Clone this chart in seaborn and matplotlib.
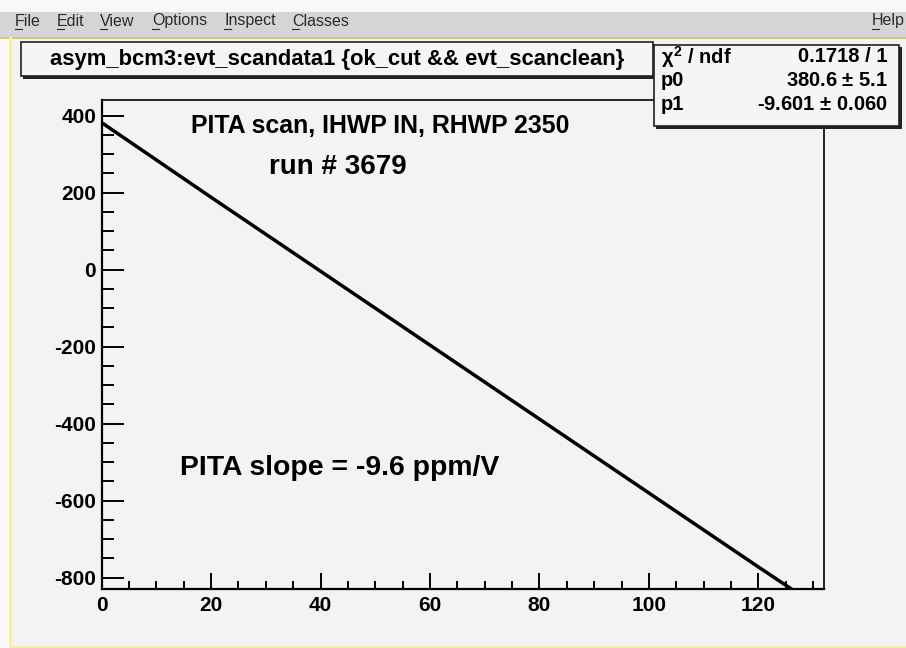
import matplotlib
matplotlib.use("Agg")
import matplotlib.pyplot as plt
from matplotlib.patches import Rectangle
from matplotlib.ticker import MultipleLocator
import seaborn as sns
import pandas as pd

# ---- data ----
scan_x = [0, 10, 20, 30, 40, 50, 60, 70, 80, 90, 100, 110, 120, 126]
asym_y = [382, 285, 188, 92, -4, -100, -196, -292, -388, -484, -580, -676, -772, -829]
x_ticks = [0, 20, 40, 60, 80, 100, 120]
y_ticks = [-800, -600, -400, -200, 0, 200, 400]
title_text = "asym_bcm3:evt_scandata1 {ok_cut && evt_scanclean}"
stats_names = [r"$\chi^2$ / ndf", "p0", "p1"]
stats_values = ["0.1718 / 1", r"380.6 $\pm$ 5.1", r"-9.601 $\pm$ 0.060"]
menu_items = [("File", 15), ("Edit", 57), ("View", 100), ("Options", 152),
              ("Inspect", 224), ("Classes", 292), ("Help", 872)]

W, H = 906, 648
plt.rcParams["font.family"] = ["Liberation Sans", "DejaVu Sans"]
plt.rcParams["mathtext.fontset"] = "custom"
plt.rcParams["mathtext.rm"] = "Liberation Sans:bold"
plt.rcParams["mathtext.it"] = "Liberation Sans:bold"
plt.rcParams["mathtext.bf"] = "Liberation Sans:bold"

canvas_bg = "#f3f3f3"
fig = plt.figure(figsize=(W / 100, H / 100), dpi=100, facecolor=canvas_bg)

# main axes in pixel placement
x0, x1, y0, y1 = 101.7, 824, 100, 589
ax = fig.add_axes([x0 / W, 1 - y1 / H, (x1 - x0) / W, (y1 - y0) / H])
ax.set_facecolor(canvas_bg)

df = pd.DataFrame({"x": scan_x, "y": asym_y})
sns.lineplot(data=df, x="x", y="y", ax=ax, color="black", linewidth=2.5,
             estimator=None, sort=False, legend=False)
ax.set_xlim(0, 132)
ax.set_ylim(-829.4, 440.8)
ax.set_xlabel("")
ax.set_ylabel("")
ax.set_xticks(x_ticks)
ax.set_yticks(y_ticks)
ax.set_xticklabels([str(t) for t in x_ticks], fontsize=15, fontweight="bold")
ax.set_yticklabels([str(t) for t in y_ticks], fontsize=15, fontweight="bold")
ax.xaxis.set_minor_locator(MultipleLocator(5))
ax.yaxis.set_minor_locator(MultipleLocator(50))
ax.tick_params(axis="y", which="major", direction="in", length=15.8, width=1.4, pad=4)
ax.tick_params(axis="y", which="minor", direction="in", length=8.6, width=1.4)
ax.tick_params(axis="x", which="major", direction="in", length=11.5, width=1.4, pad=5)
ax.tick_params(axis="x", which="minor", direction="in", length=5.8, width=1.4)
for s in ["left", "bottom"]:
    ax.spines[s].set_linewidth(1.6)
for s in ["top", "right"]:
    ax.spines[s].set_linewidth(1.2)

# overlay in pixel coordinates
ov = fig.add_axes([0, 0, 1, 1], facecolor="none", zorder=5)
ov.set_xlim(0, W)
ov.set_ylim(H, 0)
ov.axis("off")

# white strip, menu bar and yellow canvas border
ov.add_patch(Rectangle((0, 0), W, 12, facecolor="#f8f8f8", edgecolor="none"))
ov.add_patch(Rectangle((0, 12), W, 25, facecolor="#d5d5d5", edgecolor="none"))
ov.add_patch(Rectangle((0, 37), W, 2, facecolor="#c9c98a", edgecolor="none"))
ov.add_patch(Rectangle((0, 37), 10, H - 37, facecolor="#f8f8f8", edgecolor="none", zorder=0))
ov.add_patch(Rectangle((9, 37), 2.5, H - 37, facecolor="#f3f0a8", edgecolor="none"))
ov.add_patch(Rectangle((9, H - 2.5), W, 2.5, facecolor="#f3f0a8", edgecolor="none"))
for name, xp in menu_items:
    ov.text(xp, 21, name, fontsize=11.5, color="#2a2a2a", ha="left", va="center")
    ov.plot([xp, xp + 7], [29, 29], color="#2a2a2a", lw=0.8)

# title box with shadow
ov.add_patch(Rectangle((23, 44), 632, 35, facecolor="#222222", edgecolor="none"))
ov.add_patch(Rectangle((21, 42), 632, 34, facecolor="#f5f5f5", edgecolor="#222222", lw=1.2))
ov.text(337, 59.5, title_text, fontsize=15.8, fontweight="bold", ha="center", va="center")

# stats box with shadow
ov.add_patch(Rectangle((656, 47), 246, 82, facecolor="#222222", edgecolor="none"))
ov.add_patch(Rectangle((654, 45), 245, 81, facecolor="#f5f5f5", edgecolor="#222222", lw=1.2))
rows_y = [57, 81, 105]
for nm, val, yp in zip(stats_names, stats_values, rows_y):
    ov.text(661, yp, nm, fontsize=14.5, fontweight="bold", ha="left", va="center")
    ov.text(888, yp, val, fontsize=14.5, fontweight="bold", ha="right", va="center")

# annotations
ov.text(380, 126, "PITA scan, IHWP IN, RHWP 2350", fontsize=17.9, fontweight="bold",
        ha="center", va="center")
ov.text(338, 167, "run # 3679", fontsize=20, fontweight="bold", ha="center", va="center")
ov.text(340, 468, "PITA slope = -9.6 ppm/V", fontsize=20.4, fontweight="bold",
        ha="center", va="center")

fig.savefig("out.png", dpi=100, facecolor=canvas_bg)
